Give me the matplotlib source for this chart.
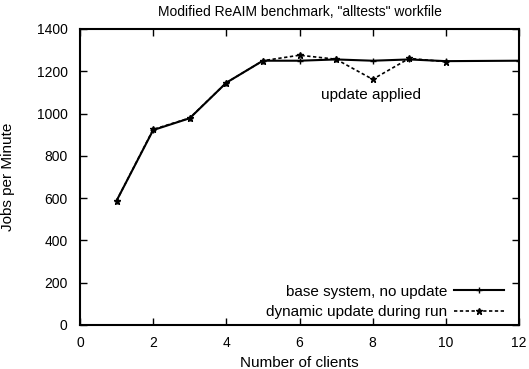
import matplotlib
matplotlib.use("Agg")
import matplotlib.pyplot as plt

plt.rcParams['font.family'] = ['Liberation Sans', 'DejaVu Sans']
plt.rcParams['font.size'] = 10

base_x = [1, 2, 3, 4, 5, 6, 7, 8, 9, 10, 12]
base_y = [588, 922, 978, 1146, 1250, 1250, 1256, 1250, 1256, 1248, 1250]
dyn_x = [1, 2, 3, 4, 5, 6, 7, 8, 9, 10]
dyn_y = [588, 925, 979, 1146, 1250, 1276, 1257, 1162, 1261, 1245]

fig = plt.figure(figsize=(5.29, 3.69), dpi=100)
ax = fig.add_axes([80 / 529, 1 - 325 / 369, 439 / 529, 296 / 369])

ax.plot(base_x, base_y, color='black', lw=1.5, marker='+', ms=5, mew=1,
        label='base system, no update')
ax.plot(dyn_x, dyn_y, color='black', lw=1.2, ls=(0, (2, 1.5)), marker='*', ms=5,
        label='dynamic update during run')

ax.text(7.95, 1088, 'update applied', ha='center', va='center', fontsize=11)

ax.set_xlim(0, 12)
ax.set_ylim(0, 1400)
ax.set_xticks(range(0, 13, 2))
ax.set_yticks(range(0, 1401, 200))
ax.tick_params(direction='in', top=True, right=True, length=5, width=1)
ax.tick_params(axis='x', pad=8)
ax.tick_params(axis='y', pad=9)
for s in ax.spines.values():
    s.set_linewidth(1.5)

ax.set_title('Modified ReAIM benchmark, "alltests" workfile', fontsize=10, pad=9)
ax.set_xlabel('Number of clients', fontsize=11, va='center')
ax.set_ylabel('Jobs per Minute', fontsize=11, va='center')
ax.xaxis.set_label_coords(0.5, -0.128)
ax.yaxis.set_label_coords(-0.163, 0.5)

ax.legend(loc='lower right', frameon=False, markerfirst=False, handlelength=3.3,
          fontsize=11, borderaxespad=0.1, borderpad=0.3, labelspacing=0.4,
          handletextpad=0.4, bbox_to_anchor=(0.98, 0.0))

fig.savefig('out.png', dpi=100)
